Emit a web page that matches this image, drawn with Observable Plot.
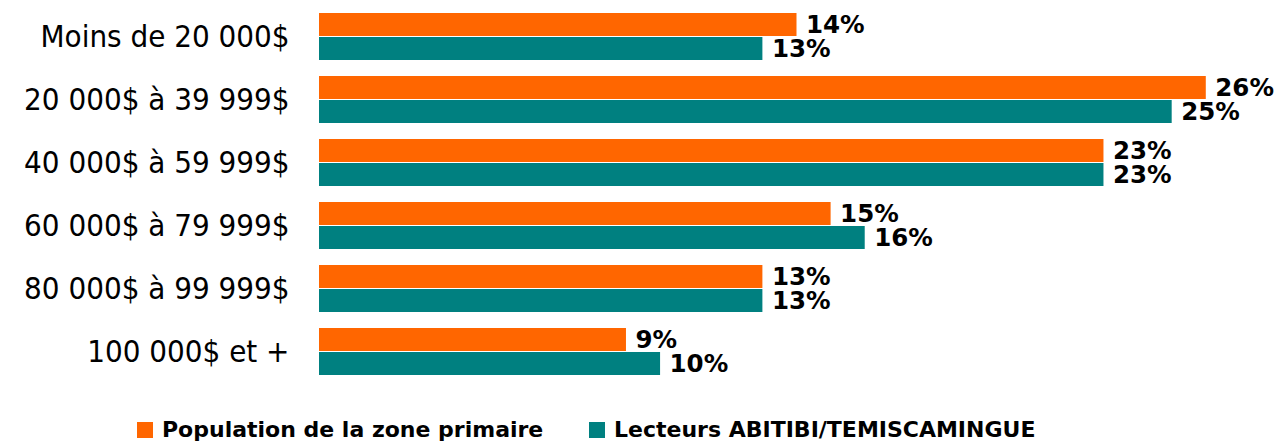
<!DOCTYPE html>
<html><head><meta charset="utf-8">
<script src="https://cdn.jsdelivr.net/npm/d3@7"></script>
<script src="https://cdn.jsdelivr.net/npm/@observablehq/plot@0.6"></script>
<style>
body{margin:0;background:#fff;font-family:"DejaVu Sans",sans-serif}
#chart{position:relative;width:1279px;height:443px;overflow:hidden}
.item{position:absolute;top:417px;display:flex;align-items:center;font-weight:bold;font-size:22px;color:#000;white-space:nowrap}
.sw{width:16px;height:16px;margin-right:9px;flex:none}
</style></head><body><div id="chart"></div>
<script>
const categories = ["Moins de 20 000$", "20 000$ à 39 999$", "40 000$ à 59 999$", "60 000$ à 79 999$", "80 000$ à 99 999$", "100 000$ et +"];
const seriesNames = ["Population de la zone primaire", "Lecteurs ABITIBI/TEMISCAMINGUE"];
const population = [14, 26, 23, 15, 13, 9];
const lecteurs = [13, 25, 23, 16, 13, 10];
const colors = ["#FF6600", "#008080"];

const data = categories.flatMap((c, i) => [
  {category: c, series: seriesNames[0], value: population[i]},
  {category: c, series: seriesNames[1], value: lecteurs[i]}
]);

const plot = Plot.plot({
  width: 1279, height: 395,
  marginLeft: 319, marginRight: 5, marginTop: 7, marginBottom: 13,
  style: {fontFamily: "'DejaVu Sans', sans-serif", background: "#fff"},
  x: {domain: [0, 28], axis: null},
  fy: {domain: categories, paddingInner: 0.25, paddingOuter: 0.1, label: null, axis: null},
  y: {domain: seriesNames, paddingInner: 0.06, paddingOuter: 0, axis: null},
  color: {domain: seriesNames, range: colors},
  marks: [
    Plot.barX(data, {fy: "category", y: "series", x: "value", fill: "series"}),
    Plot.text(data, {fy: "category", y: "series", x: "value", text: d => d.value + "%", textAnchor: "start", dx: 9, fontSize: 24.5, fontWeight: "bold", fill: "#000"}),
    Plot.axisFy({anchor: "left", tickSize: 0, tickPadding: 30, fontSize: 31, fontFamily: "'DejaVu Sans Condensed', 'DejaVu Sans', sans-serif", label: null, fill: "#000"})
  ]
});
plot.querySelectorAll("g[aria-label='fy-axis tick label'] text, g[aria-label='fy-axis tick label']").forEach(e => e.style.fontStretch = "condensed");
const chart = document.getElementById("chart");
chart.appendChild(plot);

const lefts = [137, 589];
seriesNames.forEach((s, i) => {
  const it = document.createElement("div");
  it.className = "item";
  it.style.left = lefts[i] + "px";
  const sw = document.createElement("span");
  sw.className = "sw";
  sw.style.background = colors[i];
  const t = document.createElement("span");
  t.textContent = s;
  it.appendChild(sw); it.appendChild(t);
  chart.appendChild(it);
});
</script>
</body></html>
